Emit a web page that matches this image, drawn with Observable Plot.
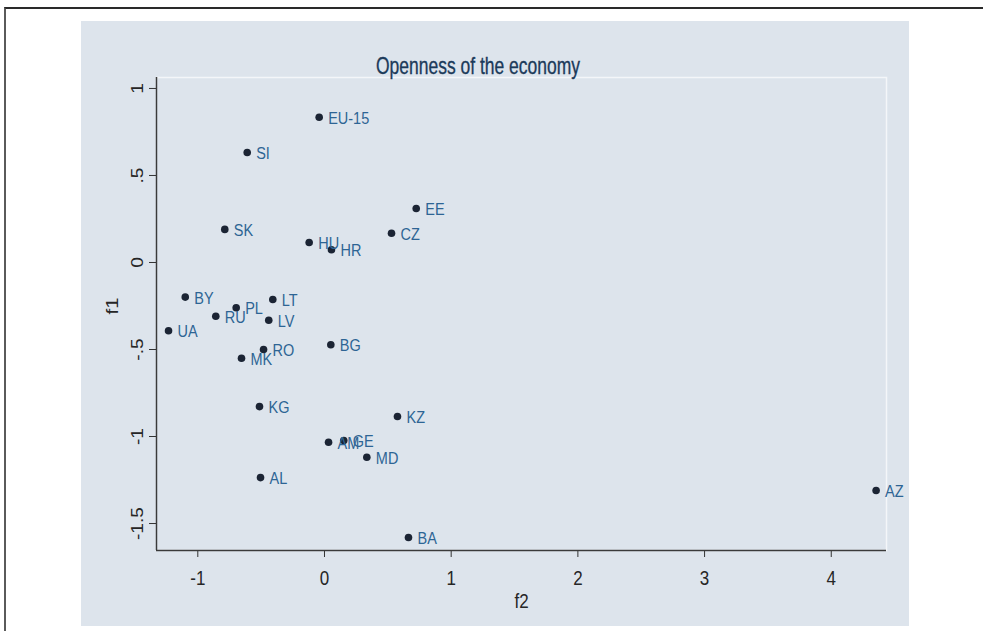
<!DOCTYPE html>
<html>
<head>
<meta charset="utf-8">
<script src="https://cdn.jsdelivr.net/npm/d3@7"></script>
<script src="https://cdn.jsdelivr.net/npm/@observablehq/plot@0.6"></script>
<style>
html, body { margin: 0; padding: 0; background: #ffffff; width: 983px; height: 631px; overflow: hidden; }
#frame { position: absolute; left: 4px; top: 7px; width: 1100px; height: 800px; border-left: 2px solid #5a5a5a; border-top: 2px solid #2a2a2a; }
#panel { position: absolute; left: 81px; top: 21px; width: 828px; height: 605px; background: #dde4ec; }
#title { position: absolute; left: 397px; top: 46px; white-space: nowrap; line-height: 1;
  font-family: "Liberation Sans", Arial, sans-serif; font-size: 22px; color: #1b3a5a; -webkit-text-stroke: 0.3px #1b3a5a; }
#chart { position: absolute; left: 0; top: 0; }
</style>
</head>
<body>
<div id="frame"></div>
<div id="panel">
  <div id="chart"></div>
  <div id="title">Openness of the economy</div>
</div>
<script>
// Data
const countries = ["EU-15","SI","EE","SK","CZ","HU","HR","BY","LT","PL","RU","LV","UA","BG","RO","MK","KG","KZ","AM","GE","MD","AL","BA","AZ"];
const f2 = [-0.042,-0.610,0.724,-0.787,0.529,-0.121,0.055,-1.099,-0.408,-0.697,-0.858,-0.440,-1.231,0.050,-0.481,-0.655,-0.513,0.576,0.032,0.152,0.334,-0.505,0.663,4.354];
const f1 = [0.835,0.632,0.310,0.190,0.168,0.115,0.073,-0.199,-0.213,-0.260,-0.309,-0.332,-0.392,-0.473,-0.500,-0.550,-0.828,-0.885,-1.033,-1.023,-1.119,-1.236,-1.580,-1.310];

const xTicks = [-1, 0, 1, 2, 3, 4];
const xTickLabels = ["-1", "0", "1", "2", "3", "4"];
const yTicks = [1, 0.5, 0, -0.5, -1, -1.5];
const yTickLabels = ["1", ".5", "0", "-.5", "-1", "-1.5"];
const xDomain = [-1.326, 4.436];
const yDomain = [-1.655, 1.063];
const xTitle = "f2";
const yTitle = "f1";

const data = countries.map((c, i) => ({c, f2: f2[i], f1: f1[i]}));
const font = "'Liberation Sans', Arial, Helvetica, sans-serif";

const chart = Plot.plot({
  width: 828,
  height: 605,
  marginLeft: 75,
  marginTop: 56,
  marginRight: 23,
  marginBottom: 76,
  style: {background: "transparent", overflow: "visible", fontFamily: font},
  x: {domain: xDomain},
  y: {domain: yDomain},
  marks: [
    Plot.frame({stroke: "#f4f6f9", strokeWidth: 1.5}),
    Plot.axisX(xTicks, {tickSize: 7, tickPadding: 13, tickFormat: d => xTickLabels[xTicks.indexOf(d)], fontSize: 17, color: "#262626", stroke: "#333", label: null}),
    Plot.axisY(yTicks, {tickSize: 7, tickFormat: () => "", stroke: "#333", label: null}),
    Plot.text(yTicks, {y: d => d, text: (d, i) => yTickLabels[i], frameAnchor: "left", dx: -19, rotate: -90, textAnchor: "middle", lineAnchor: "middle", fontSize: 16, fill: "#262626"}),
    Plot.text([xTitle], {text: d => d, frameAnchor: "bottom", dy: 51, lineAnchor: "middle", fontSize: 17, fill: "#262626"}),
    Plot.text([yTitle], {text: d => d, frameAnchor: "left", dx: -44, dy: -8, rotate: -90, textAnchor: "middle", lineAnchor: "middle", fontSize: 17, fill: "#262626"}),
    Plot.ruleX([xDomain[0]], {stroke: "#3a3a3a", strokeWidth: 1.5}),
    Plot.ruleY([yDomain[0]], {stroke: "#3a3a3a", strokeWidth: 1.5}),
    Plot.dot(data, {x: "f2", y: "f1", r: 3.8, fill: "#1b2434", stroke: "none"}),
    Plot.text(data, {x: "f2", y: "f1", text: "c", dx: 9, dy: 1, textAnchor: "start", lineAnchor: "middle", fill: "#2d6494", fontSize: 14.5})
  ]
});
document.getElementById("chart").appendChild(chart);

// The reference's lettering is tall and narrow: stretch every text vertically on screen.
const stretch = 1.2;
chart.querySelectorAll("text").forEach(t => {
  let tr = t.getAttribute("transform");
  if (tr == null) {
    const x = t.getAttribute("x") || 0, y = t.getAttribute("y") || 0;
    tr = `translate(${x},${y})`;
    t.removeAttribute("x");
    t.removeAttribute("y");
  }
  const rotated = /rotate\(\s*-90/.test(tr);
  t.setAttribute("transform", tr + (rotated ? ` scale(${stretch},1)` : ` scale(1,${stretch})`));
});

// Title: condensed lettering, centred on the reference position
const title = document.getElementById("title");
const w = title.getBoundingClientRect().width;
const h = title.getBoundingClientRect().height;
title.style.transformOrigin = "0 0";
title.style.transform = `translate(${-102}px, ${-h * 0.62}px) scale(${204 / w}, 1.12)`;
</script>
</body>
</html>
